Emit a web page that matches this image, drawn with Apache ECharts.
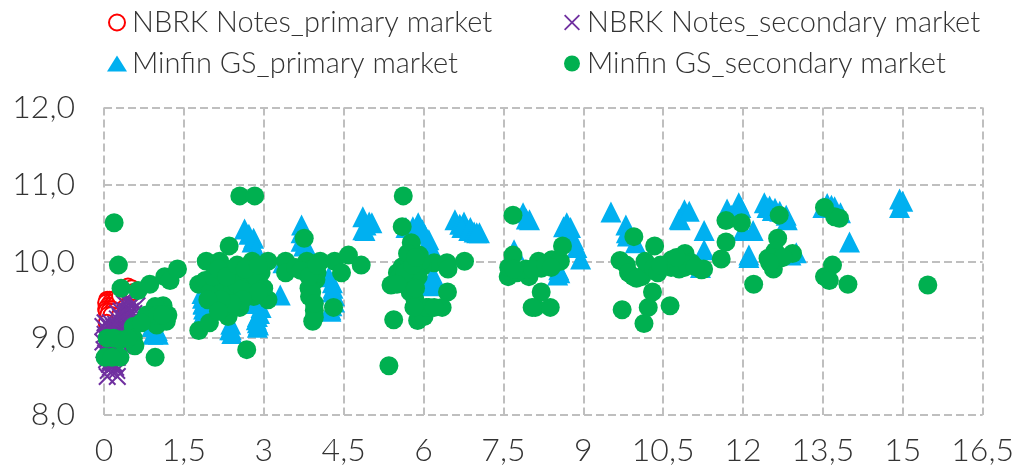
<!DOCTYPE html>
<html><head><meta charset="utf-8">
<style>html,body{margin:0;padding:0;background:#fff}#c{width:1017px;height:467px}</style>
<script src="https://cdn.jsdelivr.net/npm/echarts@6/dist/echarts.min.js"></script>
</head><body><div id="c"></div>
<script>
const seriesNames = ['NBRK Notes_primary market','NBRK Notes_secondary market','Minfin GS_primary market','Minfin GS_secondary market'];
const xTicks = {min:0,max:16.5,step:1.5};
const yTicks = {min:8,max:12,step:1};
const nbrkPrimary = [[0.06,9.5],[0.1,9.5],[0.15,9.5],[0.2,9.5],[0.04,9.46],[0.12,9.46],[0.18,9.46],[0.08,9.42],[0.14,9.42],[0.2,9.42],[0.04,9.38],[0.1,9.38],[0.16,9.38],[0.05,9.35],[0.1,9.35],[0.16,9.35],[0.22,9.35],[0.08,9.3],[0.14,9.3],[0.05,9.2],[0.3,9.55],[0.38,9.6],[0.45,9.67],[0.48,9.62],[0.52,9.65],[0.55,9.6],[0.3,9.3],[0.4,9.4],[0.2,9.1],[0.3,9.0],[0.1,8.9]];
const nbrkSecondary = [[0.06,8.5],[0.25,8.5],[0.08,8.58],[0.24,8.58],[0.1,8.66],[0.2,8.66],[0.05,8.72],[0.15,8.75],[0.25,8.75],[0.0,8.85],[0.1,8.85],[0.2,8.85],[0.3,8.85],[-0.02,8.95],[0.08,8.95],[0.18,8.95],[0.28,8.95],[0.02,9.05],[0.12,9.05],[0.22,9.05],[0.32,9.05],[0.42,9.05],[-0.02,9.15],[0.08,9.15],[0.18,9.15],[0.3,9.15],[0.42,9.15],[0.02,9.2],[0.12,9.2],[0.25,9.25],[0.38,9.25],[0.5,9.22],[0.32,9.35],[0.44,9.35],[0.56,9.32],[0.38,9.45],[0.5,9.42],[0.62,9.42],[0.4,9.5],
[0.04,8.8],[0.14,8.8],[0.24,8.8],[0.05,8.9],[0.15,8.9],[0.25,8.9],[0.35,8.9],[0.03,9.0],[0.13,9.0],[0.23,9.0],[0.33,9.0],[0.43,9.0],[0.05,9.1],[0.15,9.1],[0.25,9.1],[0.35,9.1],[0.47,9.1],[0.07,9.18],[0.22,9.18],[0.36,9.18],[0.5,9.15],[0.31,9.27],[0.44,9.27],[0.57,9.27],[0.26,9.32],[0.38,9.36],[0.5,9.35],[0.46,9.48],[0.55,9.45],[0.17,8.68],[0.12,8.7],[0.22,8.62],[0.12,8.62]];
const minfinPrimary = [[0.95,9.07],[0.9,9.15],[1.0,9.1],[0.92,9.05],[1.02,9.05],[1.85,9.52],[1.86,9.44],[1.87,9.38],[1.86,9.45],[1.84,9.58],[1.88,9.33],[1.86,9.3],[2.36,9.11],[2.39,9.11],[2.4,9.06],[2.38,9.18],[2.88,9.28],[2.88,9.2],[2.92,9.32],[2.86,9.24],[2.9,9.17],[2.95,9.4],[2.88,9.14],[2.8,9.45],[3.31,9.56],[2.64,10.42],[2.81,10.3],[2.72,10.35],[2.78,10.25],[2.8,10.05],[2.85,10.15],[3.36,9.98],[3.71,10.47],[3.7,10.37],[3.7,10.26],[3.83,10.15],[3.75,10.2],[3.8,10.1],[4.86,10.58],[4.98,10.51],[4.86,10.41],[4.9,10.4],[4.92,10.47],[5.03,10.5],[4.29,9.72],[4.29,9.6],[4.26,9.37],[4.33,9.47],[4.26,9.35],[4.33,9.55],[4.3,9.65],[4.22,9.8],[4.28,9.42],[5.67,10.44],[5.9,10.5],[5.8,10.45],[5.85,10.42],[5.98,10.41],[6.02,10.35],[6.1,10.28],[6.16,10.15],[6.14,9.69],[6.14,9.75],[6.2,9.72],[6.1,9.68],[6.18,9.82],[6.59,10.54],[6.76,10.51],[6.68,10.48],[6.72,10.44],[6.88,10.44],[6.85,10.4],[6.95,10.38],[7.0,10.37],[7.05,10.37],[7.87,10.63],[7.99,10.54],[7.93,10.55],[7.7,10.15],[8.69,10.5],[8.63,10.45],[8.76,10.44],[8.72,10.38],[8.82,10.28],[8.78,10.3],[8.88,10.18],[8.95,10.03],[8.54,9.89],[8.52,9.82],[8.56,9.85],[9.52,10.64],[9.8,10.47],[9.81,10.37],[9.83,10.33],[9.98,10.24],[10.82,10.54],[10.9,10.67],[10.8,10.55],[10.99,10.65],[11.27,10.4],[11.27,10.15],[11.2,9.92],[11.7,10.68],[11.92,10.76],[11.96,10.7],[11.78,10.6],[12.19,10.4],[12.0,10.4],[12.11,10.08],[12.11,10.05],[12.4,10.76],[12.5,10.72],[12.6,10.69],[12.69,10.65],[12.81,10.6],[12.83,10.54],[12.45,10.7],[12.55,10.66],[13.0,10.11],[12.9,10.08],[13.58,10.75],[13.5,10.7],[13.72,10.71],[13.66,10.73],[13.83,10.63],[14.94,10.81],[15.0,10.78],[14.94,10.7],[14.0,10.25]];
const minfinSecondary = [[0.19,10.5],[0.27,9.95],[0.32,9.65],[0.64,9.62],[0.86,9.7],[1.14,9.8],[1.24,9.75],[1.38,9.9],[1.11,9.42],[1.2,9.3],[1.17,9.22],[0.99,9.17],[0.96,9.41],[0.8,9.3],[0.55,9.15],[0.55,9.0],[0.06,9.0],[0.3,8.98],[0.58,8.9],[0.02,8.75],[0.3,8.75],[0.96,8.75],[1.0,9.3],[1.1,9.3],[0.15,8.75],[0.18,9.0],[0.45,9.0],[0.7,9.2],
[2.55,10.85],[2.83,10.85],[2.35,10.2],[2.68,8.85],[1.78,9.1],[1.98,9.2],[3.76,10.3],[1.92,10.0],[2.17,10.0],[1.78,9.7],[2.78,10.0],[3.08,10.0],[3.41,10.0],[3.41,9.85],[3.81,10.0],[4.06,10.0],[4.33,10.0],[4.59,10.08],[4.83,9.95],[4.46,9.85],[3.98,9.76],[3.86,9.54],[3.95,9.36],[3.92,9.22],[3.95,9.27],[4.31,9.4],[3.08,9.5],[2.81,9.54],[2.55,9.4],[2.33,9.28],[2.11,9.5],[2.0,9.7],[2.1,9.8],[2.3,9.9],[2.4,9.75],[2.55,9.85],[2.75,9.75],[2.9,9.7],[2.95,9.85],[2.2,9.6],[2.45,9.55],[2.7,9.6],[2.25,9.4],
[1.9,9.75],[2.0,9.6],[2.1,9.65],[2.2,9.75],[2.3,9.65],[2.4,9.6],[2.5,9.7],[2.6,9.65],[2.7,9.85],[2.85,9.8],[3.0,9.65],[2.9,9.6],[2.6,9.5],[2.4,9.45],[2.2,9.5],[2.05,9.8],[2.15,9.9],[2.3,9.8],[2.5,9.95],[2.65,9.9],[2.9,9.95],[1.95,9.5],[2.15,9.35],[3.9,9.9],[4.0,9.85],[3.85,9.65],[3.9,9.6],[3.95,9.45],[3.6,9.92],[3.7,9.88],[3.85,9.8],[4.0,9.95],
[5.62,10.85],[5.6,10.45],[5.77,10.24],[5.92,10.08],[6.2,9.98],[6.44,9.98],[6.46,9.9],[6.77,10.0],[5.39,9.69],[5.44,9.24],[5.35,8.64],[6.45,9.6],[6.35,9.4],[6.1,9.4],[5.95,9.32],[5.89,9.23],[6.01,9.28],[5.84,9.5],[5.51,9.85],[5.6,9.93],[5.73,10.0],[5.54,9.79],[5.7,9.69],[5.85,9.85],[5.98,9.93],[5.7,10.1],[5.95,10.0],
[5.6,9.75],[5.75,9.8],[5.9,9.8],[5.65,9.85],[5.8,9.95],[5.85,10.05],[5.75,9.6],[5.85,9.65],[5.5,9.7],[6.05,9.4],[6.2,9.4],[5.82,9.4],
[7.68,10.08],[7.68,10.6],[7.59,9.8],[7.6,9.92],[7.98,9.8],[7.92,9.9],[8.16,10.0],[8.21,9.91],[8.41,10.02],[8.57,10.0],[8.61,10.2],[8.21,9.6],[8.1,9.4],[8.38,9.4],[8.04,9.4],[7.75,9.85],[8.05,9.9],[8.3,9.95],[7.7,9.9],[8.4,9.92],
[9.69,10.01],[9.81,9.95],[9.94,9.8],[10.1,9.8],[9.95,10.32],[10.34,10.2],[10.16,10.0],[10.32,9.91],[10.3,9.6],[10.22,9.4],[9.73,9.37],[10.14,9.19],[10.63,9.42],[10.66,9.95],[10.66,10.02],[10.91,10.1],[10.65,9.92],[10.9,9.92],[11.03,9.98],[11.22,9.89],[11.26,9.9],[10.8,10.0],[9.85,9.85],[10.0,9.78],[10.4,9.85],[10.45,9.95],[10.75,9.95],[10.8,9.9],[10.95,9.95],[11.1,9.93],[10.75,10.05],
[11.59,10.03],[11.68,10.25],[11.68,10.53],[11.97,10.5],[12.2,9.7],[12.68,10.6],[12.65,10.3],[12.47,10.04],[12.57,9.9],[12.93,10.1],[12.69,10.04],[12.6,10.13],[12.55,10.05],[12.75,10.05],[12.5,9.98],[13.53,10.7],[13.72,10.58],[13.81,10.56],[13.68,9.95],[13.53,9.8],[13.62,9.75],[13.97,9.7],[15.47,9.69]];

const crossPath = 'path://M1.6,0L10,8.4L18.4,0L20,1.6L11.6,10L20,18.4L18.4,20L10,11.6L1.6,20L0,18.4L8.4,10L0,1.6Z';
const FONT = 'Lato';
const TXT = '#333333';
function legendAt(name,left,top){
  return {data:[name],left:left,top:top,itemWidth:20,itemHeight:16,padding:0,selectedMode:false,
    textStyle:{fontFamily:FONT,fontWeight:300,fontSize:29,color:TXT}};
}
const comma = v => String(v).replace('.',',');
const chart = echarts.init(document.getElementById('c'),null,{renderer:'canvas'});
const gridLine = {show:true,lineStyle:{color:'#bfbfbf',width:2,type:[8,4]}};
chart.setOption({
  animation:false,
  backgroundColor:'#fff',
  legend:[legendAt(seriesNames[0],108,8),legendAt(seriesNames[1],564,8),legendAt(seriesNames[2],107,49),legendAt(seriesNames[3],564,49)],
  grid:{left:104,right:32,top:107.5,bottom:51.5,containLabel:false},
  xAxis:{type:'value',min:xTicks.min,max:xTicks.max,interval:xTicks.step,
    axisLine:{show:false},axisTick:{show:false},splitLine:gridLine,
    axisLabel:{formatter:v=>comma(v),fontFamily:FONT,fontWeight:300,fontSize:32,color:TXT,margin:20}},
  yAxis:{type:'value',min:yTicks.min,max:yTicks.max,interval:yTicks.step,
    axisLine:{show:false},axisTick:{show:false},splitLine:gridLine,
    axisLabel:{formatter:v=>v.toFixed(1).replace('.',','),fontFamily:FONT,fontWeight:300,fontSize:32,color:TXT,margin:29}},
  series:[
    {name:seriesNames[0],type:'scatter',data:nbrkPrimary,symbol:'circle',symbolSize:16,clip:false,
     itemStyle:{color:'#fff',borderColor:'#ff0000',borderWidth:2,opacity:1}},
    {name:seriesNames[1],type:'scatter',data:nbrkSecondary,symbol:crossPath,symbolSize:18,clip:false,
     itemStyle:{color:'#7030a0',opacity:1}},
    {name:seriesNames[2],type:'scatter',data:minfinPrimary,symbol:'triangle',symbolSize:21,clip:false,
     itemStyle:{color:'#00b0f0',opacity:1}},
    {name:seriesNames[3],type:'scatter',data:minfinSecondary,symbol:'circle',symbolSize:19,clip:false,
     itemStyle:{color:'#00b050',opacity:1}}
  ]
});
</script></body></html>
